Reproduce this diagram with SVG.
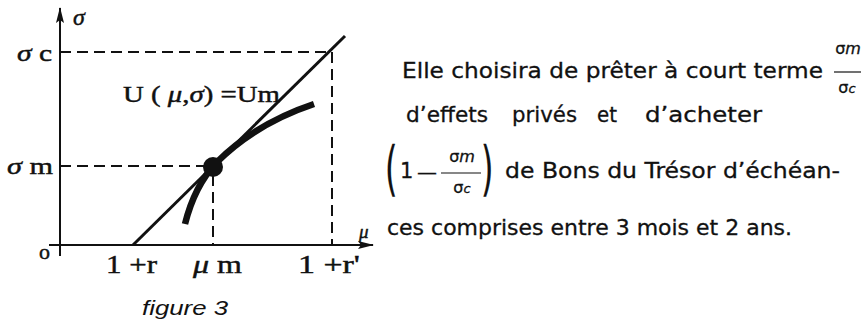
<svg xmlns="http://www.w3.org/2000/svg" width="868" height="322" viewBox="0 0 868 322">
<defs>
<style>
.ser{font-family:"Liberation Serif","DejaVu Serif",serif;fill:#111;stroke:#111;stroke-width:0.45}
.it{font-style:italic}
.sans{font-family:"DejaVu Sans","Liberation Sans",sans-serif;fill:#111;stroke:#111;stroke-width:0.3}
.fig{font-family:"Liberation Sans","DejaVu Sans",sans-serif;fill:#111;font-style:italic}
.axis{stroke:#111;stroke-width:2;fill:none}
.dash{stroke:#111;stroke-width:2;fill:none;stroke-dasharray:11 6}
</style>
<marker id="arr" markerWidth="16" markerHeight="10" refX="15" refY="5" orient="auto" markerUnits="userSpaceOnUse">
<path d="M0,1 L16,5 L0,9 L3,5 Z" fill="#111"/>
</marker>
</defs>
<rect width="868" height="322" fill="#fff"/>

<g id="axes">
<line class="axis" x1="60" y1="256" x2="60" y2="8" marker-end="url(#arr)"/>
<line class="axis" x1="49" y1="245" x2="373" y2="245" marker-end="url(#arr)"/>
</g>

<g id="guides">
<line class="dash" x1="60" y1="52" x2="332" y2="52"/>
<line class="dash" x1="332" y1="52" x2="332" y2="245"/>
<line class="dash" x1="60" y1="166" x2="206" y2="166"/>
<line class="dash" x1="213" y1="175" x2="213" y2="245"/>
</g>

<g id="connectors">
<line x1="133" y1="245" x2="345" y2="36" stroke="#111" stroke-width="3"/>
<path d="M185,224 C192,196 203,177 216,163 C240,139 272,118 314,104" fill="none" stroke="#111" stroke-width="6.5"/>
<circle cx="213" cy="167" r="10" fill="#111"/>
</g>

<g id="labels">
<text class="ser it" x="73" y="25" font-size="24">σ</text>
<text class="ser" x="17" y="61" font-size="24" textLength="35" lengthAdjust="spacingAndGlyphs"><tspan class="it">σ</tspan> c</text>
<text class="ser" x="7" y="174" font-size="24" textLength="46" lengthAdjust="spacingAndGlyphs"><tspan class="it">σ</tspan> m</text>
<text class="ser" x="39" y="259" font-size="22">o</text>
<text class="ser" x="106" y="273" font-size="26" textLength="51" lengthAdjust="spacingAndGlyphs">1 +r</text>
<text class="ser" x="193" y="273" font-size="26" textLength="49" lengthAdjust="spacingAndGlyphs"><tspan class="it">μ</tspan> m</text>
<text class="ser" x="298" y="273" font-size="26" textLength="62" lengthAdjust="spacingAndGlyphs">1 +r'</text>
<text class="ser it" x="359" y="238" font-size="19">μ</text>
<text class="ser" x="123" y="102" font-size="24" textLength="157" lengthAdjust="spacingAndGlyphs">U ( <tspan class="it">μ</tspan>,<tspan class="it">σ</tspan>) =Um</text>
<text class="fig" x="142" y="315" font-size="21" textLength="86" lengthAdjust="spacingAndGlyphs">figure 3</text>
</g>

<g id="paragraph">
<text class="sans" x="402" y="78" font-size="21" textLength="421" lengthAdjust="spacingAndGlyphs">Elle choisira de prêter à court terme</text>
<text class="sans" x="848" y="54" font-size="16" text-anchor="middle">σ<tspan class="it">m</tspan></text>
<line x1="834" y1="72" x2="861" y2="72" stroke="#111" stroke-width="1.2"/>
<text class="sans" x="847" y="93" font-size="16" text-anchor="middle">σ<tspan class="it" font-size="13">c</tspan></text>

<text class="sans" y="122" font-size="21"><tspan x="406" textLength="82" lengthAdjust="spacingAndGlyphs">d’effets</tspan><tspan x="512" textLength="65" lengthAdjust="spacingAndGlyphs">privés</tspan><tspan x="597" textLength="20" lengthAdjust="spacingAndGlyphs">et</tspan><tspan x="645" textLength="117" lengthAdjust="spacingAndGlyphs">d’acheter</tspan></text>

<text class="sans" transform="translate(385,189) scale(0.55,1)" font-size="58">(</text>
<text class="sans" x="400" y="178" font-size="21">1</text>
<text class="sans" x="417" y="179" font-size="20">—</text>
<text class="sans" x="462" y="162" font-size="16" text-anchor="middle">σ<tspan class="it">m</tspan></text>
<line x1="441" y1="173" x2="481" y2="173" stroke="#111" stroke-width="1.2"/>
<text class="sans" x="462" y="193" font-size="16" text-anchor="middle">σ<tspan class="it" font-size="13">c</tspan></text>
<text class="sans" transform="translate(481,189) scale(0.55,1)" font-size="58">)</text>
<text class="sans" x="505" y="178" font-size="21" textLength="335" lengthAdjust="spacingAndGlyphs">de Bons du Trésor d’échéan-</text>

<text class="sans" x="387" y="235" font-size="21" textLength="405" lengthAdjust="spacingAndGlyphs">ces comprises entre 3 mois et 2 ans.</text>
</g>
</svg>
